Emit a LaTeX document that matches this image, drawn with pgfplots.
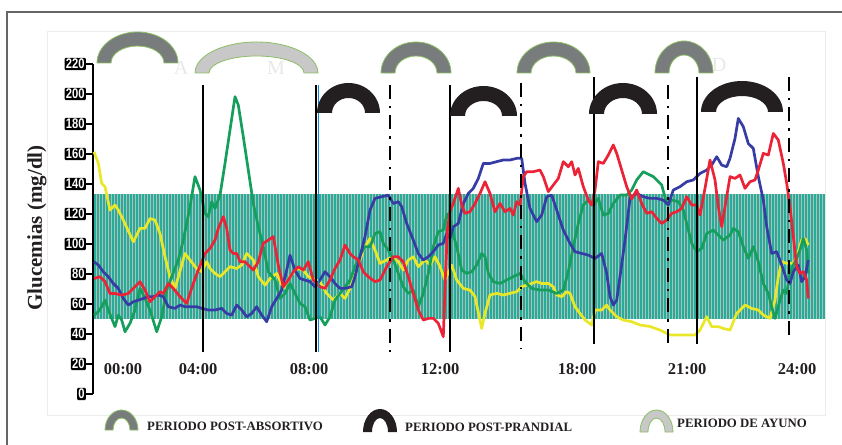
\documentclass[border=0pt]{standalone}
\usepackage{fontspec}
\setmainfont{Liberation Serif}
\newfontfamily\tickfont[FakeStretch=0.8]{Liberation Sans}
\usepackage{pgfplots}
\pgfplotsset{compat=1.18}
\usetikzlibrary{patterns}
\definecolor{cy}{RGB}{232,232,40}
\definecolor{cg}{RGB}{22,158,92}
\definecolor{cb}{RGB}{55,60,165}
\definecolor{cr}{RGB}{235,35,55}
\definecolor{bandc}{RGB}{40,172,154}
\definecolor{stripe}{RGB}{175,192,186}
\definecolor{arcdark}{RGB}{120,124,124}
\definecolor{arclight}{RGB}{200,200,200}
\definecolor{arcedge}{RGB}{140,190,100}
\definecolor{arcblack}{RGB}{35,31,32}
\newcommand{\harc}[6]{%
  \pgfmathsetmacro\rx{(#2-#1)/2}%
  \pgfmathsetmacro\rxi{\rx-#5}%
  \pgfmathsetmacro\ryi{#4-#5}%
  \path[#6] (#1,#3) arc[start angle=180,end angle=0,x radius=\rx,y radius=#4] -- ++(-#5,0) arc[start angle=0,end angle=180,x radius=\rxi,y radius=\ryi] -- cycle;}
\begin{document}
\begin{tikzpicture}[x=1pt,y=1pt]
% frames
\draw[gray!15, line width=0.6pt] (47,-21) rectangle (825,363);
\draw[black!60, line width=1.8pt] (7,-52) -- (7,382) -- (844,382);
% band
\fill[bandc] (93,75) rectangle (825,199.5);
\fill[pattern=vertical lines, pattern color=stripe] (93,75) rectangle (825,199.5);
\begin{axis}[
  anchor=south west, at={(93pt,0pt)}, x=1pt, y=1.5pt, disabledatascaling,
  xmin=93, xmax=825, ymin=0, ymax=220,
  axis y line=left, axis x line=none,
  y axis line style={line width=2.6pt, -},
  ytick={0,20,...,220},
  tick align=outside, major tick length=7pt,
  ytick style={line width=2pt, black},
  yticklabel={{\tickfont\bfseries\fontsize{14}{14}\selectfont\pgfmathprintnumber[assume math mode=true]{\tick}}},
  yticklabel style={fill=black, text=white, inner sep=1.2pt, rounded corners=1pt},
  clip=false,
  every axis plot/.append style={line width=2.7pt, line join=round, no marks},
]
\addplot[cy] coordinates {(94,161.5)(98.3,153.8)(101.7,140.4)(105,138.2)(110,122.6)(115,126)(118.3,122.6)(123.3,116)(133.3,101.5)(140,110.4)(145,110.4)(150,117)(155,116)(160,107)(165,91.5)(170,78)(175,70.4)(178.3,78)(185,93.7)(190,89.3)(196.7,83.7)(201.7,81.5)(206.7,88.2)(210,83.7)(215,80.4)(220,78.2)(225,81.5)(230,84.9)(236.7,83.7)(241.7,86)(246.7,93.7)(253.3,89.3)(258.3,78.2)(265,72.6)(270,77)(276.7,80.4)(283.3,70.4)(290,78.2)(296.7,83.7)(303.3,82.6)(308.3,78.2)(320,74.9)(326.7,67)(333.3,62.6)(340,67)(345,63.7)(350,70.4)(356.7,82.6)(363.3,96)(370,103.7)(375,96)(380,87.1)(386.7,89.3)(391.7,91.5)(398.3,88.2)(403.3,82.6)(408.3,89.3)(413.3,91.5)(418.3,84.9)(425,89.3)(430,86)(435,91.5)(440,84.9)(445,76)(451.7,85.9)(456.7,76)(463.3,70.4)(470,69.3)(475,64.9)(481.7,43.7)(485,53.7)(490,66)(496.7,67.1)(503.3,66)(510,67.1)(516.7,68.2)(521.7,71.5)(526.7,72.6)(531.7,73.7)(536.7,74.9)(541.7,73.7)(548.3,73.7)(553.3,71.5)(556.7,66)(561.7,64.9)(566.7,68.2)(570,67.1)(575,58.2)(580,53.7)(585,49.3)(591.7,46)(595,56)(601.7,56)(606.7,59.3)(610,56)(616.7,51.5)(623.3,49.3)(631.7,48.2)(640,46)(650,45)(660,42.6)(670,39.3)(680,39.3)(695,39.3)(700,42.6)(706.7,51.5)(711.7,44.9)(718.3,44.9)(723.3,43.7)(730,42.6)(736.7,53.7)(745,59.3)(751.7,57)(758.3,56)(763.3,52.6)(770,50.4)(775,62.6)(778.3,78.2)(781.7,88.2)(786.7,87.1)(793.3,87.1)(796.7,91.5)(801.7,102.7)(805,103.7)(808.3,99.3)};
\addplot[cg] coordinates {(94,52.6)(98.3,54.9)(101.7,58.2)(105,62.6)(108.3,56)(111.7,50.4)(115,44.9)(118.3,52.6)(121.7,49.3)(125,41.5)(130,47.1)(135,56)(140,70.4)(145,63.7)(150,56)(156.7,41.5)(161.7,51.5)(166.7,69.3)(171.7,78.2)(178.3,89.3)(183.3,102.6)(190,124.9)(195,144.9)(200,136)(205,120.4)(208.3,118.2)(211.7,128.2)(215,123.7)(220,132.6)(225,153.7)(230,176)(235,198.2)(238.3,192.6)(243.3,171.5)(248.3,149.3)(253.3,127)(258.3,111.5)(263.3,98.2)(268.3,81.5)(275,76)(280,63.7)(285,67)(290,73.7)(295,67)(300,60.4)(305,58.2)(310,49.3)(315,50.4)(320,51.5)(325,46)(330,51.5)(335,62.6)(340,67)(345,71.5)(350,76)(355,84.9)(360,92.6)(365,98.2)(370,98.2)(375,107)(380,108.2)(383.3,100.4)(388.3,96)(393.3,89.3)(398.3,80.4)(403.3,71.5)(408.3,67)(413.3,69.3)(418.3,58.2)(423.3,67)(428.3,80.4)(433.3,98.2)(438.3,108.2)(443.3,109.3)(447,120)(450,116)(453.3,106)(456.7,98.2)(461.7,82.6)(466.7,80.4)(471.7,81.5)(476.7,86)(481.7,93.7)(485,91.5)(488.3,80.4)(493.3,74.9)(500,73.7)(506.7,76)(513.3,78.2)(520,80.4)(525,74.9)(531.7,70.4)(540,69.3)(548.3,69.3)(556.7,67)(563.3,69.3)(568.3,81.5)(573.3,98.2)(578.3,113.7)(583.3,126)(588.3,129.3)(593.3,126)(598.3,130.4)(603.3,119.3)(608.3,120.4)(613.3,127)(620,132.6)(626.7,132.6)(631.7,136)(636.7,142.7)(643.3,148.2)(653.3,144.9)(661.7,139.3)(666.7,127)(671.7,129.3)(678.3,128.2)(683.3,122.6)(686.7,113.7)(691.7,100.4)(696.7,94.9)(701.7,97.1)(706.7,107)(713.3,109.3)(718.3,106)(723.3,102.6)(730,106)(733.3,110.4)(738.3,108.2)(743.3,98.2)(748.3,90.4)(753.3,98.2)(758.3,88.2)(763.3,73.7)(768.3,67)(771.7,58.2)(775,50.4)(780,62.6)(783.3,69.3)(786.7,67)(790,80.4)(793.3,86)(796.7,90.4)(800,96)(803.3,103.7)(806.7,96)(808.3,80.4)};
\addplot[cb] coordinates {(94,88.2)(98.3,86)(103.3,81.5)(108.3,78.2)(113.3,73.7)(118.3,70.4)(123.3,63.7)(128.3,59.3)(133.3,61.5)(138.3,62.6)(143.3,63.7)(148.3,64.9)(153.3,64.9)(158.3,66)(163.3,64.9)(168.3,58.2)(175,57.1)(180,59.3)(185,58.2)(190,58.2)(196.7,58.2)(201.7,57.1)(208.3,56)(215,56)(221.7,57.1)(226.7,53.7)(231.7,52.6)(236.7,59.3)(241.7,56)(246.7,51.5)(251.7,53.7)(256.7,58.2)(261.7,52.6)(266.7,48.2)(271.7,58.2)(276.7,63.7)(281.7,69.3)(286.7,82.6)(290,92.6)(295,82.6)(300,77)(305,75.9)(310,74.9)(315,71.5)(320,76)(325,81.5)(330,78.2)(335,73.7)(340,70.4)(345,70.4)(351.7,71.5)(355,78.2)(360,91.5)(365,104.9)(370,122.6)(375,130.4)(381.7,131.5)(388.3,132.6)(393.3,127)(398.3,128.2)(401.7,124.9)(406.7,113.7)(413.3,102.6)(418.3,93.7)(423.3,89.3)(428.3,91.5)(433.3,94.9)(438.3,99.3)(443.3,100.4)(446.7,107)(450,103.7)(453.3,111.5)(458.3,113.7)(463.3,127)(468.3,133.7)(473.3,137.1)(478.3,143.7)(483.3,153.7)(490,153.7)(496.7,154.9)(503.3,156)(510,156)(516.7,157.1)(521.7,157.1)(525,140.4)(530,123.7)(536.7,114.9)(541.7,119.3)(546.7,131.5)(551.7,132.6)(556.7,122.6)(563.3,109.3)(570,100.4)(575,94.9)(581.7,93.7)(588.3,92.6)(595,90.4)(601.7,93.7)(606.7,80.4)(610,64.9)(613.3,59.3)(616.7,62.6)(620,78.2)(625,102.6)(630,130.4)(636.7,133.7)(643.3,131.5)(650,130.4)(656.7,130.4)(663.3,129.3)(668.3,126)(673.3,136)(680,138.2)(686.7,141.5)(693.3,142.7)(700,147)(706.7,149.3)(711.7,152.6)(716.7,158.2)(721.7,152.6)(726.7,151.5)(730,157.1)(735,170.4)(738.3,183.7)(743.3,178.2)(748.3,167)(753.3,163.7)(758.3,144.9)(763.3,129.3)(766.7,111.5)(771.7,93.7)(776.7,94.9)(781.7,86)(786.7,76)(790,73.7)(793.3,81.5)(798.3,86)(801.7,74.9)(805,78.2)(808.3,89.3)};
\addplot[cr] coordinates {(94,77)(100,78.2)(105,74.9)(110,67)(115,67)(121.7,65.9)(128.3,67)(135,71.5)(140,74.9)(145,69.3)(150,61.5)(155,64.9)(160,68.2)(163.3,67)(168.3,73.7)(173.3,70.4)(180,64.9)(186.7,60.4)(193.3,73.7)(198.3,82.6)(205,93.7)(210,97)(215,102.6)(218.3,110.4)(223.3,118.2)(226.7,110.4)(230,96)(233.3,93.7)(236.7,93.7)(240,88.2)(245,88.2)(248.3,86)(253.3,82.6)(258.3,88.2)(263.3,100.4)(268.3,102.6)(273.3,104.9)(278.3,86)(283.3,71.5)(288.3,76)(293.3,81.5)(298.3,84.9)(303.3,82.6)(308.3,88.2)(313.3,76)(320,71.5)(325,70.4)(330,76)(335,83.7)(340,89.3)(345,99.3)(350,93.7)(353.3,91.5)(358.3,89.3)(363.3,81.5)(368.3,78.2)(375,74.9)(380,76)(386.7,84.9)(393.3,91.5)(398.3,91.5)(403.3,88.2)(408.3,78.2)(413.3,67)(418.3,56)(423.3,49.3)(428.3,50.4)(433.3,50.4)(438.3,47.1)(443.3,38.2)(445.5,80)(447.5,110)(450,122)(453.3,127)(458.3,137.1)(461.7,126)(465,120.4)(470,121.5)(475,127)(480,133.7)(485,141.5)(490,133.7)(495,121.5)(500,127)(505,121.5)(510,123.7)(513.3,119.3)(516.7,128.2)(520,126)(523.3,144.9)(526.7,148.2)(533.3,148.2)(540,149.3)(543.3,144.9)(548.3,134.9)(553.3,139.3)(558.3,143.7)(563.3,154.9)(568.3,151.5)(571.7,154.9)(575,146)(578.3,150.4)(583.3,138.2)(588.3,129.3)(591.7,126)(595,136)(598.3,154.9)(603.3,153.7)(608.3,159.3)(613.3,166)(616.7,160.4)(621.7,149.3)(626.7,138.2)(631.7,130)(636.7,136)(641.7,127)(646.7,120.4)(651.7,121.5)(656.7,117.1)(661.7,113.7)(666.7,116)(671.7,120.4)(676.7,121.5)(681.7,123.7)(686.7,131.5)(691.7,126)(696.7,126)(700,119.3)(705,137.1)(710,156)(715,142.7)(718.3,124.9)(721.7,111.5)(725,124.9)(730,144.9)(735,143.7)(740,146)(745,137.1)(750,141.5)(755,142.7)(758.3,149.3)(763.3,160.4)(768.3,159.3)(773.3,173.7)(778.3,169.3)(783.3,153.7)(786.7,140.4)(790,124.9)(793.3,104.9)(796.7,84.9)(800,80.4)(803.3,81.5)(806.7,76)(808.3,63.7)};
\end{axis}
% vertical period lines
\tikzset{vs/.style={black, line width=2.6pt}, vd/.style={black, line width=2.6pt, dash pattern=on 14pt off 7pt on 2.5pt off 7pt}}
\draw[vs] (203,309) -- (203,42);
\draw[vs] (316,309) -- (316,42);
\draw[cyan!70!blue, line width=1pt] (318,309) -- (318,42);
\draw[vd] (390,309) -- (390,42);
\draw[vs] (450,309) -- (450,42);
\draw[vd] (521,311) -- (521,45);
\draw[vs] (594,317) -- (594,50);
\draw[vd] (668,309) -- (668,44);
\draw[vs] (697,317) -- (697,50);
\draw[vd] (789,317) -- (789,52);
% faint letters
\begin{scope}[font=\fontsize{20}{20}\selectfont, text=gray!18]
\node at (181,326) {A};
\node at (276,326) {M};
\node at (387,326) {C};
\node at (719,329) {D};
\end{scope}
% period arcs
\tikzset{pa/.style={fill=arcdark, draw=arcedge, line width=0.8pt}, pl/.style={fill=arclight, draw=arcedge, line width=0.8pt}, pb/.style={fill=arcblack}}
\harc{97}{178}{331}{31}{14}{pa}
\harc{195}{318}{321}{31}{14}{pl}
\harc{381}{451}{321}{31}{14}{pa}
\harc{517}{590}{321}{31}{14}{pa}
\harc{655}{713}{321}{32}{14}{pa}
\harc{317}{380}{281}{30}{15}{pb}
\harc{450}{517}{278}{30}{15}{pb}
\harc{589}{657}{280}{31}{15}{pb}
\harc{701}{783}{282}{31}{15}{pb}
% x labels
\begin{scope}[font=\bfseries\fontsize{16.5}{16.5}\selectfont, text=arcblack]
\node at (123,24.5) {00:00};
\node at (198,24.5) {04:00};
\node at (309,24.5) {08:00};
\node at (440,24.5) {12:00};
\node at (577,24.5) {18:00};
\node at (687,24.5) {21:00};
\node at (797,24.5) {24:00};
\end{scope}
% y label
\node[rotate=90, font=\bfseries\fontsize{21}{21}\selectfont, text=arcblack] at (37,166) {Glucemias (mg/dl)};
% legend
\harc{105}{138}{-36}{20}{8}{pa}
\harc{363}{397}{-38}{23}{9}{pb}
\harc{640}{673}{-38}{22}{8}{pl}
\begin{scope}[font=\bfseries\fontsize{12.8}{12.8}\selectfont, text=arcblack, inner sep=0pt]
\node[anchor=base west] at (147,-36) {PERIODO POST-ABSORTIVO};
\node[anchor=base west] at (405,-37) {PERIODO POST-PRANDIAL};
\node[anchor=base west] at (677,-33) {PERIODO DE AYUNO};
\end{scope}
\pgfresetboundingbox
\useasboundingbox (0,-50) rectangle (842,394);
\end{tikzpicture}
\end{document}
